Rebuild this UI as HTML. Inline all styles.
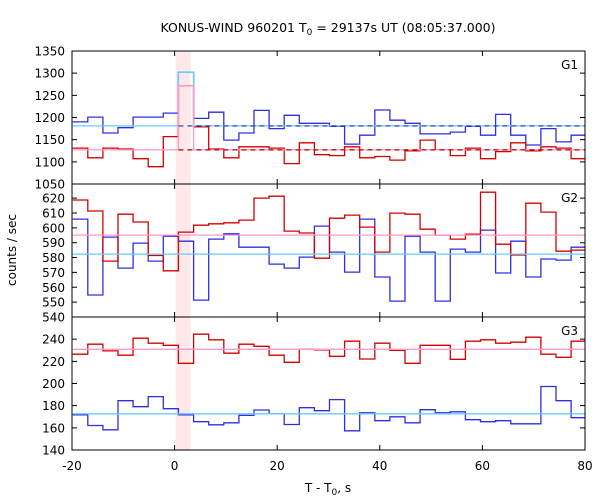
<!DOCTYPE html>
<html><head><meta charset="utf-8"><style>
html,body{margin:0;padding:0;background:#fff}
svg{display:block;font-family:"DejaVu Sans","Liberation Sans",sans-serif}
</style></head><body>
<svg id="chart" width="600" height="500" viewBox="0 0 600 500" xmlns="http://www.w3.org/2000/svg">
<text x="328" y="32" font-size="12.5" text-anchor="middle" fill="#000">KONUS-WIND 960201 T<tspan font-size="9" dy="3">0</tspan><tspan dy="-3"> = 29137s UT (08:05:37.000)</tspan></text>
<text transform="translate(16,250) rotate(-90)" font-size="12" text-anchor="middle" fill="#000">counts / sec</text>
<text x="328" y="492" font-size="12" text-anchor="middle" fill="#000">T - T<tspan font-size="9" dy="3">0</tspan><tspan dy="-3">, s</tspan></text>
<g id="plots"></g>
</svg>
<script>
// Bin geometry (time): bins start at binStart + k*binWidth for k = firstBin ...
const binStart = 0.75;
const binWidth = 2.944;
const firstBin = -7;
const xTicks = [-20, 0, 20, 40, 60, 80];
const burstBand = [0.2, 3.1];

const g1Blue = [1190,1201,1165,1177,1201,1201,1210,1302,1198,1212,1149,1165,1216,1175,1205,1187,1187,1180,1140,1160,1217,1194,1187,1163,1163,1167,1180,1160,1207,1160,1138,1175,1145,1160];
const g1Red = [1131,1109,1131,1129,1107,1089,1157,1272,1179,1129,1109,1134,1134,1131,1096,1143,1116,1114,1134,1109,1112,1104,1125,1149,1127,1114,1131,1107,1123,1143,1125,1134,1131,1107];
const g2Blue = [605.9,554.8,593.8,572.9,589.7,577.6,594.4,591,551.4,592.4,596,587,587,575.6,572.9,580.3,601.2,583.7,570.2,605.9,566.9,550.7,594.4,583.7,550.7,585.7,583.7,598.5,569.6,591,566.9,579,578.3,587];
const g2Red = [618.7,611.3,577.6,609.2,603.9,581.4,571.1,597.1,601.8,602.7,603.4,605.2,620,621.3,597.8,596.5,579.6,606.5,608.6,600.5,583.7,609.9,609.2,599.1,595.1,592.4,595.8,624,589,581.7,616.6,610.6,584.3,585];
const g3Blue = [171.8,162.1,158.2,184.5,179.1,188.2,177.3,171.8,165.5,162.7,164.5,171.2,176.1,172.7,163,178.2,175.5,185.5,157.3,173.6,166.4,170,164.5,176.4,173.6,174.5,167.3,165.5,166.4,163.6,163.6,197.3,184.5,169.1];
const g3Red = [226.4,235.5,229.4,225.5,240.9,236.4,234.5,218.2,244.5,239.4,227.3,235.5,233.6,225.5,219.1,230.9,230.3,224.5,238.2,222.1,236.4,230,218.2,234.5,234.5,221.8,238.2,239.4,236.4,237.3,241.8,226.4,223.6,238.2];

const g1Ticks = [1050,1100,1150,1200,1250,1300,1350];
const g2Ticks = [540,550,560,570,580,590,600,610,620];
const g3Ticks = [140,160,180,200,220,240];

// Background levels (mean) and burst-bin level
const g1BlueBg = 1181, g1BlueBurst = 1302;
const g1RedBg = 1127, g1RedBurst = 1272;
const g2BlueBg = 582.3, g2RedBg = 595.1;
const g3BlueBg = 172.7, g3RedBg = 230.9;

const panels = [
  {name:'g1', label:'G1', top:51, bottom:184, min:1050, max:1350, ticks:g1Ticks, blue:g1Blue, red:g1Red, bBg:g1BlueBg, rBg:g1RedBg, bBurst:g1BlueBurst, rBurst:g1RedBurst},
  {name:'g2', label:'G2', top:184, bottom:317, min:540, max:629.5, ticks:g2Ticks, blue:g2Blue, red:g2Red, bBg:g2BlueBg, rBg:g2RedBg},
  {name:'g3', label:'G3', top:317, bottom:450, min:140, max:260, ticks:g3Ticks, blue:g3Blue, red:g3Red, bBg:g3BlueBg, rBg:g3RedBg}
];

const NS = 'http://www.w3.org/2000/svg';
const L = 72, R = 585, T0 = -20, T1 = 80;
function xs(t){ return L + (t - T0) * (R - L) / (T1 - T0); }
function mk(tag, attrs, parent){ const e = document.createElementNS(NS, tag); for (const k in attrs) e.setAttribute(k, attrs[k]); parent.appendChild(e); return e; }
const root = document.getElementById('plots');

function stepPath(vals, ys){
  let d = '';
  vals.forEach((v, i) => {
    const k = firstBin + i;
    let a = binStart + k * binWidth, b = a + binWidth;
    a = Math.max(a, T0); b = Math.min(b, T1);
    const y = ys(v).toFixed(1);
    if (i === 0) d += 'M' + xs(a).toFixed(1) + ' ' + y;
    else d += 'V' + y;
    d += 'H' + xs(b).toFixed(1);
  });
  return d;
}

panels.forEach(p => {
  const ys = v => p.bottom - (v - p.min) * (p.bottom - p.top) / (p.max - p.min);
  const g = mk('g', {}, root);
  
  
  const band = mk('rect', {x: xs(burstBand[0]), y: p.top, width: xs(burstBand[1]) - xs(burstBand[0]), height: p.bottom - p.top, fill: '#fde8ea'}, g);
  
  
  // background lines
  const bvals = p.blue.map((v, i) => (p.bBurst && firstBin + i === 0) ? p.bBurst : p.bBg);
  const rvals = p.red.map((v, i) => (p.rBurst && firstBin + i === 0) ? p.rBurst : p.rBg);
  const hb = mk('path', {d: stepPath(p.blue, ys), fill: 'none', stroke: '#2f2fe0', 'stroke-width': 1.3}, g);
  
  
  const hr = mk('path', {d: stepPath(p.red, ys), fill: 'none', stroke: '#d40000', 'stroke-width': 1.3}, g);
  
  
  const lb = mk('path', {d: stepPath(bvals, ys), fill: 'none', stroke: '#66ccff', 'stroke-width': 1.3}, g);
  
  
  const lr = mk('path', {d: stepPath(rvals, ys), fill: 'none', stroke: '#ff99cc', 'stroke-width': 1.3}, g);
  
  
  if (p.bBurst) {
    const x0 = xs(binStart);
    const db = mk('line', {x1: x0, x2: R, y1: ys(p.bBg), y2: ys(p.bBg), stroke: '#2f2fa0', 'stroke-width': 1.2, 'stroke-dasharray': '5,4'}, g);
    
    
    const dr = mk('line', {x1: x0, x2: R, y1: ys(p.rBg), y2: ys(p.rBg), stroke: '#b00000', 'stroke-width': 1.2, 'stroke-dasharray': '5,4'}, g);
    
    
  }
  // frame
  const fr = mk('rect', {x: L, y: p.top, width: R - L, height: p.bottom - p.top, fill: 'none', stroke: '#000', 'stroke-width': 1}, g);
  
  
  // y ticks
  p.ticks.forEach(v => {
    const y = ys(v);
    const t1 = mk('path', {d: 'M' + L + ' ' + y + 'h5M' + R + ' ' + y + 'h-5', stroke: '#000', 'stroke-width': 1}, g);
    
    
    const tl = mk('text', {x: L - 7, y: y + 4.5, 'font-size': 12, 'text-anchor': 'end', fill: '#000'}, g);
    tl.textContent = v;
    
    
  });
  // x ticks
  xTicks.forEach(t => {
    const x = xs(t);
    const xt = mk('path', {d: 'M' + x + ' ' + p.top + 'v5M' + x + ' ' + p.bottom + 'v-5', stroke: '#000', 'stroke-width': 1}, g);
    
    
  });
  const lab = mk('text', {x: 578, y: p.top + 18, 'font-size': 12, 'text-anchor': 'end', fill: '#000'}, g);
  lab.textContent = p.label;
  
  
});
xTicks.forEach(t => {
  const xl = mk('text', {x: xs(t), y: 470, 'font-size': 12, 'text-anchor': 'middle', fill: '#000'}, root);
  xl.textContent = t;
  
  
});
</script>
</body></html>
